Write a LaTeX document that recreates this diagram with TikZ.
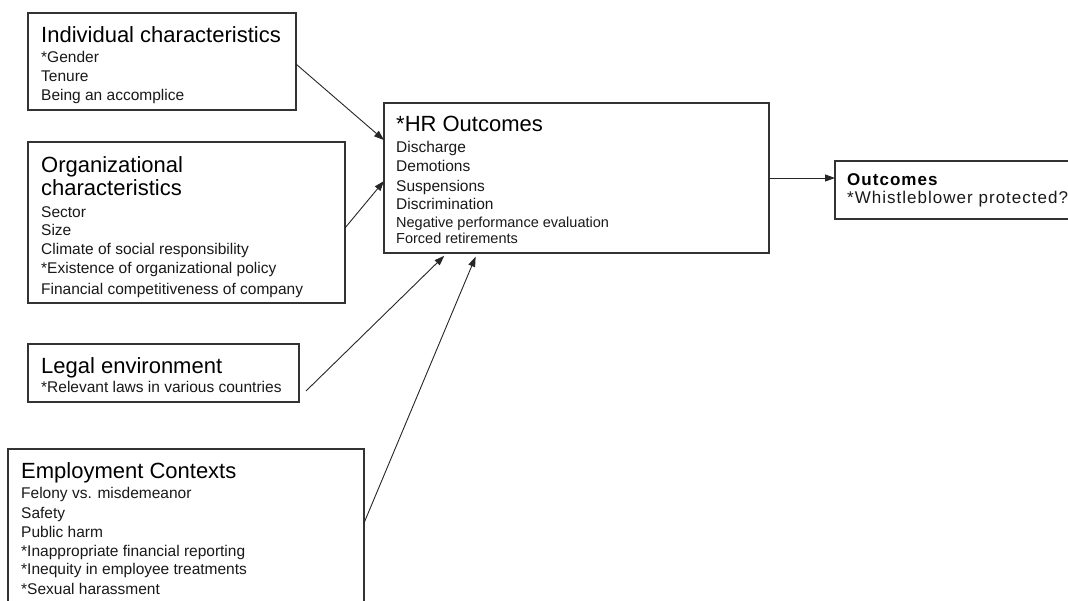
\documentclass[tikz,border=0pt]{standalone}
\usepackage{fontspec}
\setmainfont{Liberation Sans}
\usetikzlibrary{arrows.meta,calc}
\begin{document}
\begin{tikzpicture}[x=1pt,y=-1pt,
  box/.style={draw=black!80,line width=1.1pt,rectangle,anchor=north west,inner sep=0pt,outer sep=0pt},
  ttl/.style={anchor=base west,inner sep=0pt,font=\fontsize{22}{26}\selectfont,text=black},
  bd/.style={anchor=base west,inner sep=0pt,font=\fontsize{15.5}{19}\selectfont,text=black!90},
  sm/.style={anchor=base west,inner sep=0pt,font=\fontsize{14.5}{17}\selectfont,text=black!90},
  otl/.style={anchor=base west,inner sep=0pt,font=\bfseries\fontsize{17}{20}\selectfont\addfontfeature{LetterSpace=6},text=black},
  obd/.style={anchor=base west,inner sep=0pt,font=\fontsize{17}{20}\selectfont\addfontfeature{LetterSpace=6},text=black!90},
  arr/.style={draw=black!85,line width=0.9pt,-{Triangle[length=10pt,width=7pt]}}]
\useasboundingbox (0,0) rectangle (1068,600);
\fill[white] (0,0) rectangle (1068,600);
\begin{scope}
\clip (0,0) rectangle (1068,600);
% boxes
\node[box,minimum width=268pt,minimum height=97pt] (ind) at (28,13) {};
\node[box,minimum width=317pt,minimum height=161pt] (org) at (28,142) {};
\node[box,minimum width=271pt,minimum height=58pt] (leg) at (28,344) {};
\node[box,minimum width=356pt,minimum height=200pt] (emp) at (8,449) {};
\node[box,minimum width=385pt,minimum height=150pt] (hr) at (384,103) {};
\node[box,minimum width=260pt,minimum height=58pt] (out) at (835,161) {};
% individual
\node[ttl] (ind-t) at (41,42) {Individual characteristics};
\foreach \t/\y [count=\i] in {*Gender/62.5, Tenure/81.5, Being an accomplice/100.5}
  \node[bd] (ind-\i) at (41,\y) {\t};
% organizational
\node[ttl] (org-t1) at (41,172) {Organizational};
\node[ttl] (org-t2) at (41,195) {characteristics};
\foreach \t/\y [count=\i] in {Sector/217.5, Size/235.5, Climate of social responsibility/254.5, *Existence of organizational policy/273.5, Financial competitiveness of company/294.5}
  \node[bd] (org-\i) at (41,\y) {\t};
% legal
\node[ttl] (leg-t) at (41,373) {Legal environment};
\node[bd] (leg-1) at (41,392.5) {*Relevant laws in various countries};
% employment
\node[ttl] (emp-t) at (21,478) {Employment Contexts};
\foreach \t/\y [count=\i] in {Felony vs. misdemeanor/498.5, Safety/518.5, Public harm/537.5, *Inappropriate financial reporting/556.5, *Inequity in employee treatments/574.5, *Sexual harassment/594.5}
  \node[bd] (emp-\i) at (21,\y) {\t};
% HR outcomes
\node[ttl] (hr-t) at (396,131) {*HR Outcomes};
\foreach \t/\y [count=\i] in {Discharge/152.5, Demotions/171.5, Suspensions/191.5, Discrimination/209.5}
  \node[bd] (hr-\i) at (396,\y) {\t};
\node[sm] (hr-5) at (396,227) {Negative performance evaluation};
\node[sm] (hr-6) at (396,243) {Forced retirements};
% outcomes
\node[otl] (out-t) at (847,185.5) {Outcomes};
\node[obd] (out-1) at (847,203) {*Whistleblower protected?};
\end{scope}
% connectors
\draw[arr] ($(ind.north east)!0.526!(ind.south east)$) -- ($(hr.north west)!0.247!(hr.south west)$);
\draw[arr] ($(org.north east)!0.534!(org.south east)$) -- ($(hr.north west)!0.52!(hr.south west)$);
\draw[arr,shorten >=4pt] ($(leg.north east)!0.81!(leg.south east)+(7,0)$) -- ($(hr.south west)!0.164!(hr.south east)$);
\draw[arr,shorten >=4pt] ($(emp.north east)!0.37!(emp.south east)$) -- ($(hr.south west)!0.242!(hr.south east)$);
\draw[arr] (hr.east) -- (hr.east -| out.west);
\end{tikzpicture}
\end{document}
